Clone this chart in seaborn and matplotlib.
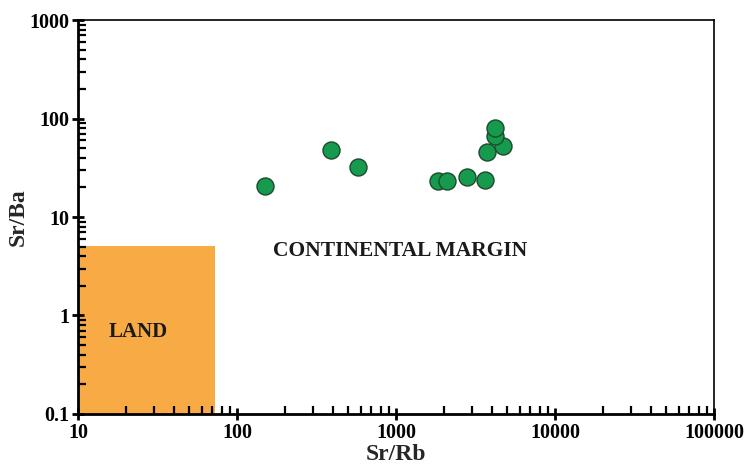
import numpy as np
import pandas as pd
import matplotlib
matplotlib.use("Agg")
import matplotlib.pyplot as plt
import seaborn as sns
from matplotlib.patches import Rectangle
from matplotlib.ticker import FixedLocator, FixedFormatter, NullFormatter

sr_rb = [150, 390, 577, 1840, 2090, 2800, 3630, 3740, 4710, 4200, 4200]
sr_ba = [20.6, 48, 32.2, 23.2, 23.2, 25.5, 23.8, 45.7, 52.6, 66.4, 80]
x_ticks = [10, 100, 1000, 10000, 100000]
x_tick_labels = ["10", "100", "1000", "10000", "100000"]
y_ticks = [0.1, 1, 10, 100, 1000]
y_tick_labels = ["0.1", "1", "10", "100", "1000"]
land_x = [10, 73]
land_y = [0.1, 5.1]

df = pd.DataFrame({"Sr/Rb": sr_rb, "Sr/Ba": sr_ba})

sns.set_style("white")
plt.rcParams['font.family'] = ['Liberation Serif', 'DejaVu Serif']

fig = plt.figure(figsize=(7.47, 4.72), dpi=100)
ax = fig.add_axes([0.1044, 0.1229, 0.8514, 0.8347])
ax.set_axisbelow(False)
ax.set_xscale("log")
ax.set_yscale("log")
ax.set_xlim(10, 100000)
ax.set_ylim(0.1, 1000)

ax.add_patch(Rectangle((land_x[0], land_y[0]), land_x[1] - land_x[0], land_y[1] - land_y[0],
                       facecolor="#F8AA45", edgecolor="none", zorder=1))

sns.scatterplot(data=df, x="Sr/Rb", y="Sr/Ba", ax=ax, s=150, color="#169A4E",
                edgecolor="#1C4A2C", linewidth=1.0, zorder=3)

ax.text(24, 0.68, "LAND", fontsize=15, fontweight="bold", ha="center", va="center", color="#1a1a1a")
ax.text(1060, 4.5, "CONTINENTAL MARGIN", fontsize=15.5, fontweight="bold", ha="center", va="center", color="#1a1a1a")

def minor_positions(lo_exp, hi_exp):
    return [m * 10.0 ** e for e in range(lo_exp, hi_exp) for m in range(2, 10)]

ax.xaxis.set_major_locator(FixedLocator(x_ticks))
ax.xaxis.set_major_formatter(FixedFormatter(x_tick_labels))
ax.yaxis.set_major_locator(FixedLocator(y_ticks))
ax.yaxis.set_major_formatter(FixedFormatter(y_tick_labels))
ax.xaxis.set_minor_locator(FixedLocator(minor_positions(1, 5)))
ax.yaxis.set_minor_locator(FixedLocator(minor_positions(-1, 3)))
ax.xaxis.set_minor_formatter(NullFormatter())
ax.yaxis.set_minor_formatter(NullFormatter())

ax.tick_params(axis="both", which="major", direction="inout", length=9, width=2, colors="black",
               labelsize=14.5, bottom=True, left=True, top=False, right=False, pad=2)
ax.tick_params(axis="both", which="minor", direction="in", length=6, width=1.6, colors="black",
               bottom=True, left=True, top=False, right=False)
for lab in ax.get_xticklabels() + ax.get_yticklabels():
    lab.set_fontweight("bold")

for side in ["left", "bottom"]:
    ax.spines[side].set_linewidth(2.0)
    ax.spines[side].set_color("black")
for side in ["top", "right"]:
    ax.spines[side].set_linewidth(1.2)
    ax.spines[side].set_color("black")

ax.set_xlabel("Sr/Rb", fontsize=17, fontweight="bold", labelpad=1)
ax.set_ylabel("Sr/Ba", fontsize=17, fontweight="bold", labelpad=0)
ax.grid(False)

fig.savefig("out.png", dpi=100, facecolor="white")
